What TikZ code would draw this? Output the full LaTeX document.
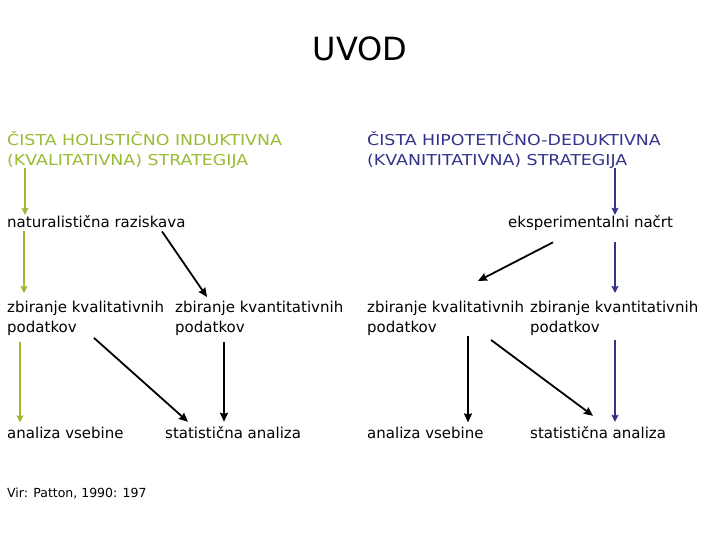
\documentclass[tikz,border=0pt]{standalone}
\usepackage{fontspec}
\setmainfont{DejaVu Sans}
\newfontfamily\headfont[FakeStretch=1.16]{DejaVu Sans}
\usetikzlibrary{arrows.meta,calc}
\definecolor{lgreen}{RGB}{153,187,51}
\definecolor{dblue}{RGB}{51,51,140}
\begin{document}
\begin{tikzpicture}[x=1pt,y=-1pt,
  txt/.style={inner sep=0pt,anchor=base west,font=\fontsize{15}{20}\selectfont},
  mtxt/.style={inner sep=0pt,anchor=north west,align=left,font=\fontsize{15}{20}\selectfont},
  htxt/.style={inner sep=0pt,anchor=north west,align=left,font=\headfont\fontsize{15}{20}\selectfont},
  arr/.style={line width=1.8pt,-{Stealth[length=9pt,width=8pt,inset=1pt]}},
  garr/.style={arr,lgreen,line width=1.3pt,-{Stealth[length=7pt,width=7pt,inset=1pt]}},
  barr/.style={arr,dblue,line width=1.3pt,-{Stealth[length=7pt,width=7pt,inset=1pt]}},
  karr/.style={arr,black}]
\useasboundingbox (0,0) rectangle (720,540);
\node[inner sep=0pt,anchor=base,font=\fontsize{32}{36}\selectfont] (title) at (360,61) {UVOD};
\node[htxt,text=lgreen] (h1) at (7,131) {ČISTA HOLISTIČNO INDUKTIVNA\\(KVALITATIVNA) STRATEGIJA};
\node[htxt,text=dblue] (h2) at (367,131) {ČISTA HIPOTETIČNO-DEDUKTIVNA\\(KVANITITATIVNA) STRATEGIJA};
\node[txt] (nat) at (7,227) {naturalistična raziskava};
\node[txt] (eks) at (508,227) {eksperimentalni načrt};
\node[mtxt] (lkl) at (7,301) {zbiranje kvalitativnih\\podatkov};
\node[mtxt] (lkn) at (175,301) {zbiranje kvantitativnih\\podatkov};
\node[mtxt] (rkl) at (367,301) {zbiranje kvalitativnih\\podatkov};
\node[mtxt] (rkn) at (530,301) {zbiranje kvantitativnih\\podatkov};
\node[txt] (lav) at (7,438) {analiza vsebine};
\node[txt] (lsa) at (165,438) {statistična analiza};
\node[txt] (rav) at (367,438) {analiza vsebine};
\node[txt] (rsa) at (530,438) {statistična analiza};
\node[inner sep=0pt,anchor=base west,font=\fontsize{12.5}{14}\selectfont] (vir) at (7,497) {Vir: Patton, 1990: 197};
% left
\draw[garr] (h1.south -| 25,0) -- (nat.north -| 25,0);
\draw[garr] ($(nat.south -| 24,0)+(0,4)$) -- ($(lkl.north -| 24,0)+(0,-8)$);
\draw[garr] ($(lkl.south -| 20,0)+(0,6)$) -- ($(lav.north -| 20,0)+(0,-4)$);
\draw[karr] ($(nat.south -| 162,0)+(0,4)$) -- ($(lkn.north -| 207,0)+(0,-4)$);
\draw[karr] ($(lkl.south -| 94,0)+(0,2)$) -- ($(lsa.north -| 188,0)+(0,-4)$);
\draw[karr] ($(lkn.south -| 224,0)+(0,6)$) -- ($(lsa.north -| 224,0)+(0,-4)$);
% right
\draw[barr] (h2.south -| 615,0) -- (eks.north -| 615,0);
\draw[karr] ($(eks.south -| 553,0)+(0,12)$) -- ($(rkl.north -| 478,0)+(0,-20)$);
\draw[barr] ($(eks.south -| 615,0)+(0,12)$) -- ($(rkn.north -| 615,0)+(0,-8)$);
\draw[karr] ($(rkl.south -| 468,0)+(0,0)$) -- ($(rav.north -| 468,0)+(0,-4)$);
\draw[karr] ($(rkl.south -| 491,0)+(0,4)$) -- ($(rsa.north -| 593,0)+(0,-10)$);
\draw[barr] ($(rkn.south -| 615,0)+(0,4)$) -- ($(rsa.north -| 615,0)+(0,-4)$);
\end{tikzpicture}
\end{document}
